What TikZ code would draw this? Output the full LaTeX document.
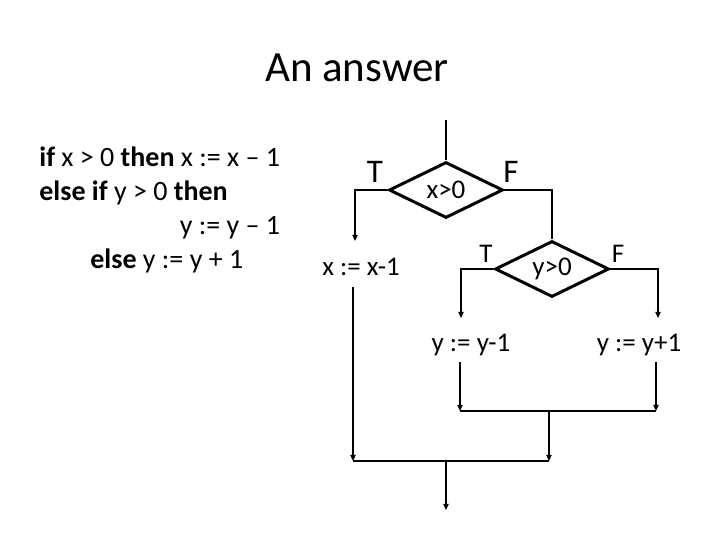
\documentclass[tikz,border=0pt]{standalone}
\usepackage{fontspec}
\setmainfont{Carlito}
\usepackage{tikz}
\usetikzlibrary{positioning, arrows.meta, shapes.geometric}

\begin{document}
\begin{tikzpicture}[x=0.5pt, y=-0.5pt, every node/.style={font=\fontsize{13.5}{16.5}\selectfont},
  test/.style={draw, diamond, line width=1.5pt, minimum width=57pt, minimum height=28pt, inner sep=0pt, aspect=2},
  stmt/.style={inner sep=0pt},
  tf/.style={inner sep=0pt, anchor=south},
  line/.style={line width=1pt},
  joinline/.style={line width=0.7pt},
  arrow/.style={-{Triangle[length=3pt, width=2.6pt]}, line width=0.9pt}]
\useasboundingbox (0,0) rectangle (720,540);

% title and the program text
\node[font=\fontsize{21.5}{26}\selectfont] (title) at (357,68) {An answer};
\node[anchor=north west, inner sep=0pt, align=left, font=\fontsize{14}{17}\selectfont] (code) at (39,142) {%
  \begin{tabular}{@{}l@{}}
  \textbf{if} x > 0 \textbf{then} x := x – 1\\
  \textbf{else if} y > 0 \textbf{then}\\
  \multicolumn{1}{@{}r@{}}{y := y – 1}\\
  \hspace*{25.5pt}\textbf{else} y := y + 1
  \end{tabular}};

% the two tests
\node[test] (tx) at (446,190) {x>0};
\node[test] (ty) at (552,269) {y>0};
\node[tf, font=\fontsize{16.5}{18}\selectfont] (tx-t) at (375,183) {T};
\node[tf, font=\fontsize{16.5}{18}\selectfont] (tx-f) at (511,183) {F};
\node[tf] (ty-t) at (486,263) {T};
\node[tf] (ty-f) at (618,263) {F};

% assignments
\node[stmt] (sx) at (361,267) {x := x-1};
\node[stmt] (sy1) at (471,345) {y := y-1};
\node[stmt] (sy2) at (639,345) {y := y+1};

% turning and joining points
\coordinate (entry) at (446,120);
\coordinate (sx-in) at (355,241);
\coordinate (sy1-in) at (461,318);
\coordinate (sy2-in) at (658,318);
\coordinate (sx-out) at (353,287);
\coordinate (sy1-out) at (460,362);
\coordinate (sy2-out) at (656,362);
\coordinate (j1-l) at (460,411);
\coordinate (j1-r) at (656,411);
\coordinate (j1) at (549,411);
\coordinate (j2-l) at (353,461);
\coordinate (j2-r) at (549,461);
\coordinate (j2) at (446,461);
\coordinate (exit) at (446,510);

\draw[line] (entry) -- (tx.north);
\draw[arrow] (tx.west) -| (sx-in);
\draw[line] (tx.east) -| (ty.north);
\draw[arrow] (ty.west) -| (sy1-in);
\draw[arrow] (ty.east) -| (sy2-in);

\draw[arrow] (sy1-out) -- (j1-l);
\draw[arrow] (sy2-out) -- (j1-r);
\draw[joinline] (j1-l) -- (j1-r);
\draw[arrow] (j1) -- (j2-r);
\draw[arrow] (sx-out) -- (j2-l);
\draw[joinline] (j2-l) -- (j2-r);
\draw[arrow] (j2) -- (exit);
\end{tikzpicture}
\end{document}
